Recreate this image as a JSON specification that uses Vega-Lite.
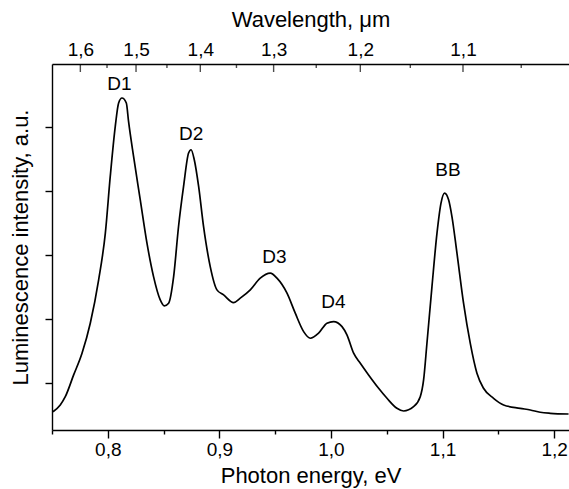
{
  "$schema": "https://vega.github.io/schema/vega-lite/v6.json",
  "width": 517,
  "height": 366,
  "autosize": "none",
  "padding": {"left": 52, "top": 64, "right": 0, "bottom": 59},
  "config": {
    "view": {"stroke": null},
    "font": "Liberation Sans",
    "axis": {
      "domainColor": "black", "tickColor": "black", "labelColor": "black", "titleColor": "black",
      "labelFont": "Liberation Sans", "titleFont": "Liberation Sans",
      "labelFontSize": 19, "titleFontSize": 22, "titleFontWeight": "normal",
      "grid": false, "domainWidth": 1.4, "tickWidth": 1.4, "labelFlush": false, "labelOverlap": false
    }
  },
  "datasets": {
    "spectrum": [
      {"energy": 0.7509, "intensity": 0.547},
      {"energy": 0.7574, "intensity": 0.652},
      {"energy": 0.7619, "intensity": 0.782},
      {"energy": 0.7694, "intensity": 1.123},
      {"energy": 0.7769, "intensity": 1.463},
      {"energy": 0.7843, "intensity": 1.933},
      {"energy": 0.7918, "intensity": 2.613},
      {"energy": 0.7978, "intensity": 3.345},
      {"energy": 0.8022, "intensity": 4.233},
      {"energy": 0.8067, "intensity": 5.017},
      {"energy": 0.8097, "intensity": 5.384},
      {"energy": 0.8127, "intensity": 5.462},
      {"energy": 0.8166, "intensity": 5.384},
      {"energy": 0.8186, "intensity": 5.095},
      {"energy": 0.8231, "intensity": 4.546},
      {"energy": 0.8291, "intensity": 3.867},
      {"energy": 0.8351, "intensity": 3.188},
      {"energy": 0.8410, "intensity": 2.664},
      {"energy": 0.8470, "intensity": 2.299},
      {"energy": 0.8506, "intensity": 2.205},
      {"energy": 0.8545, "intensity": 2.247},
      {"energy": 0.8590, "intensity": 2.664},
      {"energy": 0.8634, "intensity": 3.449},
      {"energy": 0.8679, "intensity": 4.076},
      {"energy": 0.8724, "intensity": 4.600},
      {"energy": 0.8746, "intensity": 4.651},
      {"energy": 0.8775, "intensity": 4.495},
      {"energy": 0.8814, "intensity": 4.076},
      {"energy": 0.8858, "intensity": 3.449},
      {"energy": 0.8918, "intensity": 2.821},
      {"energy": 0.8978, "intensity": 2.456},
      {"energy": 0.9038, "intensity": 2.377},
      {"energy": 0.9127, "intensity": 2.257},
      {"energy": 0.9187, "intensity": 2.326},
      {"energy": 0.9277, "intensity": 2.456},
      {"energy": 0.9366, "intensity": 2.639},
      {"energy": 0.9456, "intensity": 2.718},
      {"energy": 0.9516, "intensity": 2.639},
      {"energy": 0.9606, "intensity": 2.404},
      {"energy": 0.9680, "intensity": 2.090},
      {"energy": 0.9755, "intensity": 1.802},
      {"energy": 0.9815, "intensity": 1.698},
      {"energy": 0.9889, "intensity": 1.777},
      {"energy": 0.9964, "intensity": 1.933},
      {"energy": 1.0023, "intensity": 1.959},
      {"energy": 1.0099, "intensity": 1.880},
      {"energy": 1.0143, "intensity": 1.750},
      {"energy": 1.0203, "intensity": 1.463},
      {"energy": 1.0263, "intensity": 1.306},
      {"energy": 1.0337, "intensity": 1.123},
      {"energy": 1.0427, "intensity": 0.914},
      {"energy": 1.0502, "intensity": 0.757},
      {"energy": 1.0591, "intensity": 0.600},
      {"energy": 1.0651, "intensity": 0.558},
      {"energy": 1.0740, "intensity": 0.625},
      {"energy": 1.0800, "intensity": 0.782},
      {"energy": 1.0830, "intensity": 1.044},
      {"energy": 1.0860, "intensity": 1.620},
      {"energy": 1.0905, "intensity": 2.507},
      {"energy": 1.0950, "intensity": 3.345},
      {"energy": 1.0986, "intensity": 3.816},
      {"energy": 1.1018, "intensity": 3.972},
      {"energy": 1.1054, "intensity": 3.867},
      {"energy": 1.1084, "intensity": 3.605},
      {"energy": 1.1129, "intensity": 3.031},
      {"energy": 1.1188, "intensity": 2.247},
      {"energy": 1.1248, "intensity": 1.620},
      {"energy": 1.1308, "intensity": 1.149},
      {"energy": 1.1367, "intensity": 0.914},
      {"energy": 1.1457, "intensity": 0.757},
      {"energy": 1.1547, "intensity": 0.652},
      {"energy": 1.1696, "intensity": 0.600},
      {"energy": 1.1786, "intensity": 0.574},
      {"energy": 1.1875, "intensity": 0.538},
      {"energy": 1.1965, "intensity": 0.522},
      {"energy": 1.2129, "intensity": 0.511}
    ],
    "peaks": [
      {"energy": 0.8105, "intensity": 5.687, "name": "D1"},
      {"energy": 0.8748, "intensity": 4.902, "name": "D2"},
      {"energy": 0.9494, "intensity": 2.970, "name": "D3"},
      {"energy": 1.0021, "intensity": 2.267, "name": "D4"},
      {"energy": 1.1049, "intensity": 4.328, "name": "BB"}
    ],
    "wavelengthMajor": [
      {"energy": 0.7754, "wavelength": "1,6"},
      {"energy": 0.8253, "wavelength": "1,5"},
      {"energy": 0.8829, "wavelength": "1,4"},
      {"energy": 0.9486, "wavelength": "1,3"},
      {"energy": 1.0263, "wavelength": "1,2"},
      {"energy": 1.1183, "wavelength": "1,1"}
    ],
    "wavelengthMinor": [
      {"energy": 0.7993, "wavelength": "1,55"},
      {"energy": 0.8530, "wavelength": "1,45"},
      {"energy": 0.9153, "wavelength": "1,35"},
      {"energy": 0.9868, "wavelength": "1,25"},
      {"energy": 1.0711, "wavelength": "1,15"},
      {"energy": 1.1705, "wavelength": "1,05"}
    ]
  },
  "layer": [
    {
      "data": {"name": "spectrum"},
      "mark": {"type": "line", "color": "black", "strokeWidth": 1.7, "interpolate": "monotone"},
      "encoding": {
        "x": {
          "field": "energy", "type": "quantitative",
          "scale": {"domain": [0.75, 1.2133], "nice": false, "zero": false},
          "axis": {
            "orient": "top", "values": [0.7754, 0.8253, 0.8829, 0.9486, 1.0263, 1.1183], "ticks": false, "labelPadding": 5,
            "labelExpr": "datum.value < 0.8 ? '1,6' : datum.value < 0.85 ? '1,5' : datum.value < 0.91 ? '1,4' : datum.value < 0.99 ? '1,3' : datum.value < 1.07 ? '1,2' : '1,1'",
            "title": "Wavelength, μm", "titleBaseline": "alphabetic", "titleY": -38
          }
        },
        "y": {
          "field": "intensity", "type": "quantitative",
          "scale": {"domain": [0.26, 5.995], "nice": false, "zero": false},
          "axis": {
            "orient": "left", "tickCount": 5, "tickSize": 7,
            "labelOpacity": 0, "labelFontSize": 1, "labelPadding": 0,
            "title": "Luminescence intensity, a.u.", "titlePadding": 12
          }
        }
      }
    },
    {
      "data": {"name": "peaks"},
      "mark": {"type": "text", "color": "black", "fontSize": 19, "font": "Liberation Sans", "baseline": "middle", "align": "center"},
      "encoding": {
        "text": {"field": "name", "type": "nominal"},
        "x": {
          "field": "energy", "type": "quantitative",
          "axis": {
            "orient": "bottom", "values": [0.8, 0.9, 1.0, 1.1, 1.2], "tickSize": 8, "labelPadding": 2,
            "labelExpr": "replace(format(datum.value, '.1f'), '.', ',')",
            "title": "Photon energy, eV", "titleBaseline": "alphabetic", "titleY": 52
          }
        },
        "y": {"field": "intensity", "type": "quantitative", "axis": null}
      }
    },
    {
      "data": {"name": "peaks"},
      "mark": {"type": "point", "opacity": 0},
      "encoding": {
        "x": {
          "field": "energy", "type": "quantitative",
          "axis": {"orient": "bottom", "values": [0.75, 0.85, 0.95, 1.05, 1.15], "tickSize": 4, "labels": false, "domain": false, "title": null}
        }
      }
    },
    {
      "data": {"name": "wavelengthMajor"},
      "mark": {"type": "tick", "orient": "vertical", "size": 8, "thickness": 1.4, "color": "black", "yOffset": 4},
      "encoding": {
        "x": {"field": "energy", "type": "quantitative", "axis": null},
        "y": {"datum": 5.995, "type": "quantitative", "axis": null}
      }
    },
    {
      "data": {"name": "wavelengthMinor"},
      "mark": {"type": "tick", "orient": "vertical", "size": 4, "thickness": 1.4, "color": "black", "yOffset": 2},
      "encoding": {
        "x": {"field": "energy", "type": "quantitative", "axis": null},
        "y": {"datum": 5.995, "type": "quantitative", "axis": null}
      }
    }
  ],
  "resolve": {"axis": {"x": "independent", "y": "independent"}}
}
